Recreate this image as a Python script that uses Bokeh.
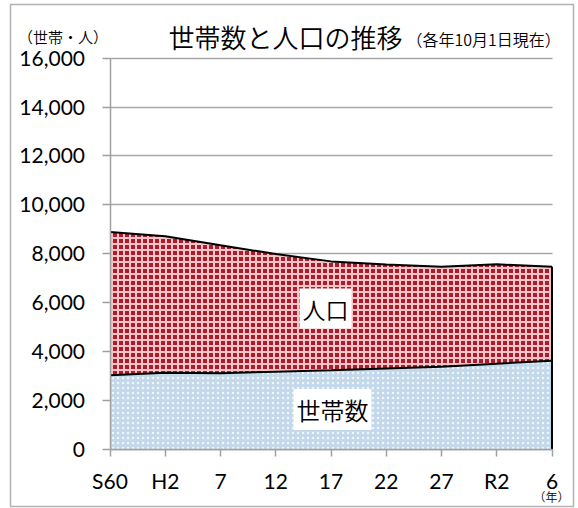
from bokeh.plotting import figure
from bokeh.models import (ColumnDataSource, FixedTicker, NumeralTickFormatter,
                          Label, BoxAnnotation, Grid)
from bokeh.embed import file_html
from bokeh.resources import INLINE

# ---- data ----
years = ["S60", "H2", "7", "12", "17", "22", "27", "R2", "6"]
population = [8890, 8720, 8350, 7990, 7690, 7560, 7470, 7570, 7470]
households = [3040, 3140, 3120, 3180, 3240, 3310, 3380, 3510, 3630]
y_ticks = [0, 2000, 4000, 6000, 8000, 10000, 12000, 14000, 16000]
y_max = 16000

# ---- layout (pixel anchors of the plotting area inside the canvas) ----
W, H = 578, 508
PX_LEFT, PX_RIGHT = 109.5, 551.5     # first / last category
PY_ZERO, PY_TOP = 449.0, 57.6        # value 0 / value y_max

n = len(years)
XS = (PX_RIGHT - PX_LEFT) / (n - 1)
YS = (PY_ZERO - PY_TOP) / y_max


def dx(px):
    return (px - PX_LEFT) / XS


def dy(py):
    return (PY_ZERO - py) / YS


src = ColumnDataSource(dict(x=list(range(n)), pop=population,
                            hh=households, zero=[0] * n))

p = figure(width=W, height=H, x_range=(dx(0), dx(W)), y_range=(dy(H), dy(0)),
           output_backend="svg", toolbar_location=None,
           min_border=0, min_border_left=0, min_border_right=0,
           min_border_top=0, min_border_bottom=0)
p.outline_line_color = None
p.background_fill_color = "white"
p.border_fill_color = "white"

# areas
p.varea(x="x", y1="hh", y2="pop", source=src, fill_color="#a51f2f",
        hatch_pattern="cross", hatch_color="#f6c3c9", hatch_scale=6, hatch_weight=2)
p.varea(x="x", y1="zero", y2="hh", source=src, fill_color="#c3d8ea",
        hatch_pattern="dot", hatch_color="#eef5fb", hatch_scale=5, hatch_weight=1)
p.line(x="x", y="pop", source=src, line_color="black", line_width=2)
p.line(x="x", y="hh", source=src, line_color="black", line_width=2)
p.segment(x0=[n - 1], y0=[0], x1=[n - 1], y1=[population[-1]],
          line_color="black", line_width=2)

# y axis (fixed inside the canvas at the first category)
yaxis = p.yaxis[0]
yaxis.fixed_location = 0
yaxis.bounds = (0, y_max)
yaxis.ticker = FixedTicker(ticks=y_ticks)
yaxis.formatter = NumeralTickFormatter(format="0,0")
yaxis.major_label_text_font = "Lato"
yaxis.major_label_text_font_size = "21px"
yaxis.major_label_text_color = "black"
yaxis.axis_line_color = "#a0a0a0"
yaxis.axis_line_width = 1.5
yaxis.major_tick_line_color = "#a0a0a0"
yaxis.major_tick_line_width = 1.5
yaxis.major_tick_out = 8
yaxis.major_tick_in = 0
yaxis.minor_tick_line_color = None
yaxis.major_label_standoff = 17

# x axis
xaxis = p.xaxis[0]
xaxis.fixed_location = 0
xaxis.bounds = (0, n - 1)
xaxis.ticker = FixedTicker(ticks=list(range(n)))
xaxis.major_label_overrides = {i: y for i, y in enumerate(years)}
xaxis.major_label_text_font = "Lato"
xaxis.major_label_text_font_size = "21px"
xaxis.major_label_text_color = "black"
xaxis.axis_line_color = "#a0a0a0"
xaxis.axis_line_width = 1.5
xaxis.major_tick_line_color = "#a0a0a0"
xaxis.major_tick_line_width = 1.5
xaxis.major_tick_out = 7
xaxis.major_tick_in = 0
xaxis.minor_tick_line_color = None
xaxis.major_label_standoff = 11

p.xgrid.grid_line_color = None
ygrid = p.ygrid[0]
ygrid.grid_line_color = "#a6a6a6"
ygrid.grid_line_width = 1.5
if "cross_bounds" in Grid.properties():
    ygrid.cross_bounds = (0, n - 1)
    ygrid.bounds = (0, y_max)
else:
    ygrid.grid_line_color = None
    p.segment(x0=[0] * len(y_ticks), y0=y_ticks, x1=[n - 1] * len(y_ticks), y1=y_ticks,
              line_color="#a6a6a6", line_width=1.5, level="underlay")

jp = "'Noto Sans CJK JP DemiLight', 'Noto Sans CJK JP'"
has_pad = "padding" in Label.properties()


def lab(x, y, text, size, align="center", bg=None):
    kw = dict(x=x, y=y, text=text, text_align=align, text_baseline="middle",
              text_font=jp, text_font_size=size, text_color="black")
    if bg:
        kw["background_fill_color"] = bg
        if has_pad:
            kw["padding"] = 3
    p.add_layout(Label(**kw))


lab(dx(325), dy(308), "人口", "23px", bg="white")
lab(dx(332), dy(409), "世帯数", "24px", bg="white")
lab(dx(62.5), dy(36), "（世帯・人）", "15px")
lab(dx(168), dy(36), "世帯数と人口の推移", "26px", align="left")
lab(dx(406), dy(38), "（各年10月1日現在）", "16px", align="left")
lab(dx(551), dy(496), "（年）", "12px")

# outer frame of the chart
p.add_layout(BoxAnnotation(left=dx(10), right=dx(573), top=dy(4), bottom=dy(506),
                           fill_alpha=0, line_color="black", line_width=1.5))

open("out.html", "w").write(file_html(p, INLINE))
